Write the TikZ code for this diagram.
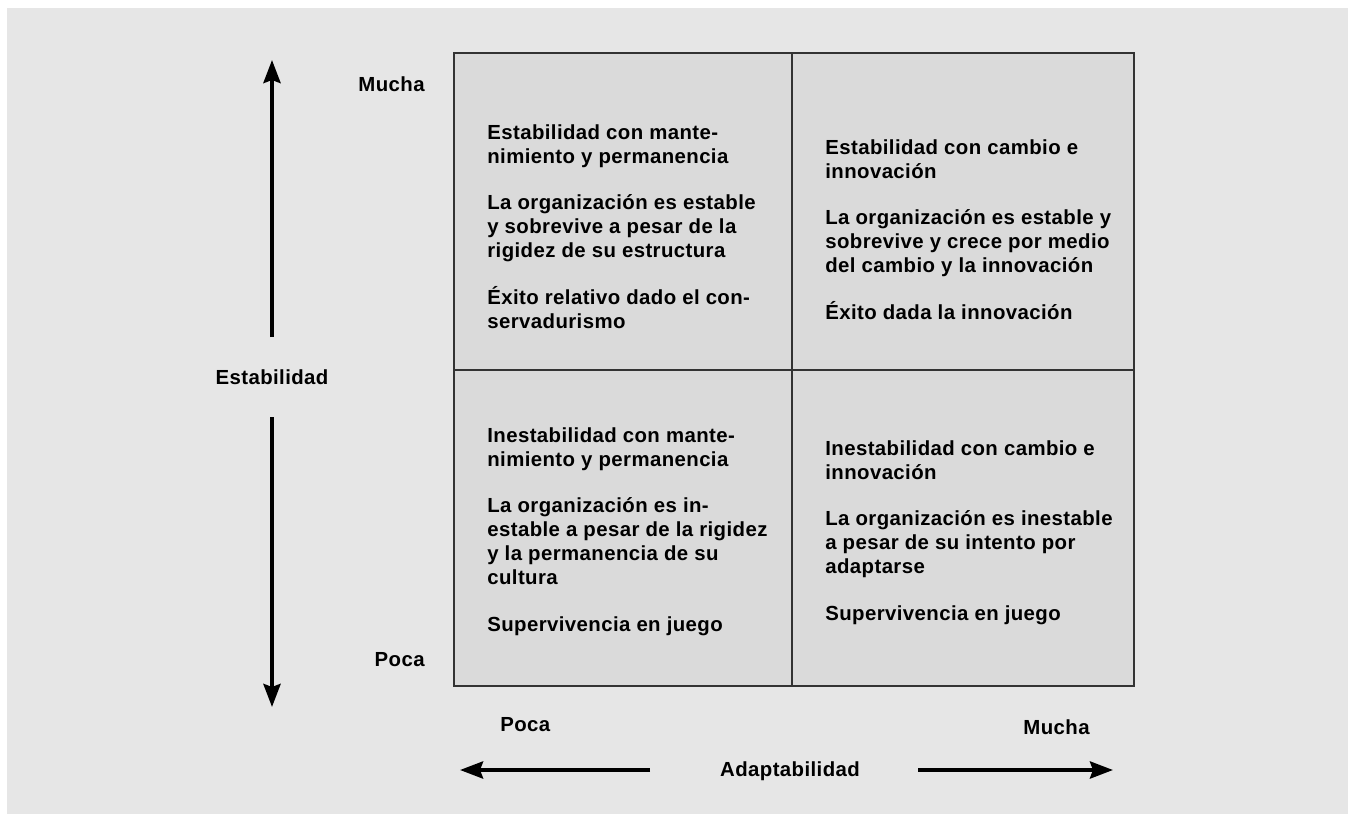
\documentclass[tikz,border=0pt]{standalone}
\usepackage{fontspec}
\newfontfamily\diagfont{Liberation Sans}[LetterSpace=2]
\usetikzlibrary{arrows.meta, positioning}
\definecolor{bggray}{HTML}{E6E6E6}
\definecolor{cellgray}{HTML}{DADADA}
\definecolor{edgegray}{HTML}{333333}

\begin{document}
\begin{tikzpicture}[x=0.02cm, y=-0.02cm,
    lbl/.style={inner sep=0pt, font=\diagfont\bfseries\fontsize{11.6}{13.7}\selectfont},
    celltext/.style={lbl, anchor=north west, align=left},
    axis/.style={-{Stealth[length=0.46cm, width=0.34cm, inset=0.06cm]}, line width=0.08cm, black}]
    \useasboundingbox (0, 0) rectangle (1348, 814);
    \fill[white] (0, 0) rectangle (1348, 814);
    \fill[bggray] (7, 8) rectangle (1348, 814);

    \draw[edgegray, line width=0.03cm, fill=cellgray] (454, 53) rectangle (1134, 686);
    \draw[edgegray, line width=0.025cm] (792, 53) -- (792, 686);
    \draw[edgegray, line width=0.025cm] (454, 370) -- (1134, 370);

    \node[celltext] (tl) at (487, 124) {Estabilidad con mante-\\nimiento y permanencia\\[12.8pt]La organización es estable\\y sobrevive a pesar de la\\rigidez de su estructura\\[12.8pt]Éxito relativo dado el con-\\servadurismo};
    \node[celltext] (tr) at (825, 139) {Estabilidad con cambio e\\innovación\\[12.8pt]La organización es estable y\\sobrevive y crece por medio\\del cambio y la innovación\\[12.8pt]Éxito dada la innovación};
    \node[celltext] (bl) at (487, 427) {Inestabilidad con mante-\\nimiento y permanencia\\[12.8pt]La organización es in-\\estable a pesar de la rigidez\\y la permanencia de su\\cultura\\[12.8pt]Supervivencia en juego};
    \node[celltext] (br) at (825, 440) {Inestabilidad con cambio e\\innovación\\[12.8pt]La organización es inestable\\a pesar de su intento por\\adaptarse\\[12.8pt]Supervivencia en juego};

    \node[lbl, anchor=east] (my) at (425, 84) {Mucha};
    \node[lbl, anchor=east] (py) at (425, 660) {Poca};
    \node[lbl] (est) at (272, 377) {Estabilidad};
    \node[lbl, anchor=west] (px) at (500, 725) {Poca};
    \node[lbl, anchor=east] (mx) at (1090, 727) {Mucha};
    \node[lbl] (ada) at (790, 771) {Adaptabilidad};

    \coordinate (up0) at (272, 337);
    \coordinate (up1) at (272, 60);
    \coordinate (dn0) at (272, 417);
    \coordinate (dn1) at (272, 707);
    \coordinate (lf0) at (650, 770);
    \coordinate (lf1) at (460, 770);
    \coordinate (rt0) at (918, 770);
    \coordinate (rt1) at (1113, 770);
    \draw[axis] (up0) -- (up1);
    \draw[axis] (dn0) -- (dn1);
    \draw[axis] (lf0) -- (lf1);
    \draw[axis] (rt0) -- (rt1);
\end{tikzpicture}
\end{document}
